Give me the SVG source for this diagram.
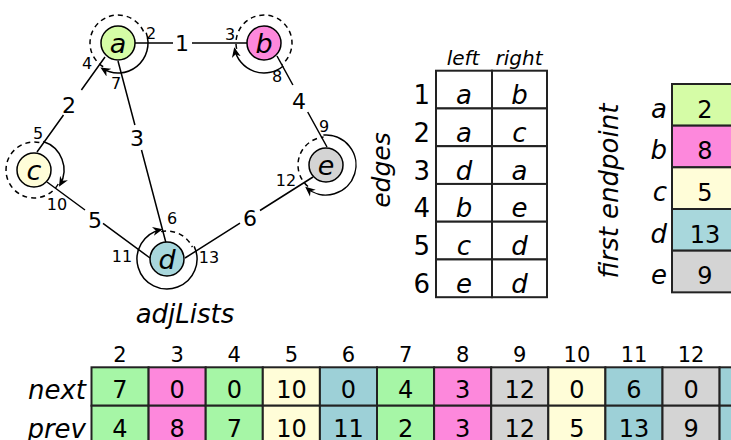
<svg xmlns="http://www.w3.org/2000/svg" width="731" height="440" viewBox="0 0 731 440">
<defs>
<style>
text{font-family:"DejaVu Sans",Verdana,sans-serif;fill:#000}
.it{font-style:italic}
.nl{font-size:27px;font-style:italic;text-anchor:middle}
.ep{font-size:16px;text-anchor:middle}
.el{font-size:22px;text-anchor:middle}
.node{stroke:#000;stroke-width:1.5}
.edge{stroke:#000;stroke-width:1.5;fill:none}
.arc{stroke:#000;stroke-width:1.5;fill:none;marker-end:url(#arr)}
.dash{stroke:#000;stroke-width:1.5;fill:none;stroke-dasharray:5 4}
.cell{stroke:#222;stroke-width:2}
.tv{font-size:24px;text-anchor:middle}
.tl{font-size:26px;text-anchor:middle;font-style:italic}
.rl{font-size:26px;text-anchor:end;font-style:italic}
.rn{font-size:26px;text-anchor:end}
.hd{font-size:21px;text-anchor:middle}
.A{fill:#d5fca6}.B{fill:#fd88dc}.C{fill:#fffdd8}.D{fill:#a8d7dc}.E{fill:#d4d4d4}
.Ag{fill:#a6f6a6}.Dg{fill:#9dd0d7}.W{fill:#fff}
</style>
<marker id="arr" viewBox="0 0 10 10" refX="8" refY="5" markerWidth="10" markerHeight="10" markerUnits="userSpaceOnUse" orient="auto">
<path d="M0,0.5 L10,5 L0,9.5 L3,5 z" fill="#000"/>
</marker>
</defs>
<rect width="731" height="440" fill="#fff"/>

<g id="connectors">
<path class="edge" d="M135,43 H173 M192,43 H247"/>
<path class="edge" d="M105,57 L81.4,90 M63.5,115 L37,152"/>
<path class="edge" d="M118,61 L134.9,125 M141.5,150 L166,243"/>
<path class="edge" d="M277,56 L292.9,85 M307.7,112 L327,147"/>
<path class="edge" d="M47,182 L85,210 M103,223.3 L150,258"/>
<path class="edge" d="M185,258 L240,223.2 M260,210.5 L313,177"/>
<text class="el" x="182" y="51">1</text>
<text class="el" x="69" y="113">2</text>
<text class="el" x="137" y="146">3</text>
<text class="el" x="299" y="109">4</text>
<text class="el" x="95" y="228">5</text>
<text class="el" x="250" y="226">6</text>
</g>

<g id="node-a">
<path class="dash" d="M103.16,66.74 A28,28 0 1 1 144.31,33.42"/>
<path class="arc" d="M146.19,32.74 A30,30 0 0 1 102.10,68.44"/>
<circle class="node A" cx="118" cy="43" r="17"/>
<text class="nl" x="118" y="53">a</text>
<text class="ep" x="151" y="39">2</text>
<text class="ep" x="87" y="69">4</text>
<text class="ep" x="116" y="89">7</text>
</g>

<g id="node-b">
<path class="dash" d="M236.61,48.82 A28,28 0 1 1 282.00,64.45"/>
<path class="arc" d="M283.28,65.98 A30,30 0 0 1 234.66,49.24"/>
<circle class="node B" cx="264" cy="43" r="17"/>
<text class="nl" x="264" y="53">b</text>
<text class="ep" x="230" y="40">3</text>
<text class="ep" x="277" y="82">8</text>
</g>

<g id="node-c">
<path class="dash" d="M58.25,184 A28,28 0 1 1 42.65,143.37"/>
<path class="arc" d="M43.27,141.47 A30,30 0 0 1 59.98,185"/>
<circle class="node C" cx="34" cy="170" r="17"/>
<text class="nl" x="34" y="180">c</text>
<text class="ep" x="38" y="139">5</text>
<text class="ep" x="57" y="210">10</text>
</g>

<g id="node-d">
<path class="dash" d="M161.18,231.61 A28,28 0 0 1 192.38,247.17"/>
<path class="arc" d="M194.19,246.32 A30,30 0 1 1 160.76,229.66"/>
<circle class="node D" cx="167" cy="259" r="17"/>
<text class="nl" x="167" y="269">d</text>
<text class="ep" x="172" y="224">6</text>
<text class="ep" x="122" y="262">11</text>
<text class="ep" x="209" y="263">13</text>
</g>

<g id="node-e">
<path class="dash" d="M308.00,186.45 A28,28 0 0 1 323.56,137.11"/>
<path class="arc" d="M323.39,135.11 A30,30 0 1 1 306.72,187.98"/>
<circle class="node E" cx="326" cy="165" r="17"/>
<text class="nl" x="326" y="175">e</text>
<text class="ep" x="324" y="132">9</text>
<text class="ep" x="286" y="186">12</text>
</g>

<text class="it" x="185" y="323" font-size="26" text-anchor="middle">adjLists</text>

<g id="edges-table">
<text class="it" x="463" y="65" font-size="20" text-anchor="middle">left</text>
<text class="it" x="519" y="65" font-size="20" text-anchor="middle">right</text>
<text class="it" font-size="25" text-anchor="middle" transform="translate(390,170) rotate(-90)">edges</text>
<g>
<rect class="cell W" x="436" y="70.7" width="56" height="37.75"/><rect class="cell W" x="492" y="70.7" width="55" height="37.75"/>
<rect class="cell W" x="436" y="108.45" width="56" height="37.75"/><rect class="cell W" x="492" y="108.45" width="55" height="37.75"/>
<rect class="cell W" x="436" y="146.2" width="56" height="37.75"/><rect class="cell W" x="492" y="146.2" width="55" height="37.75"/>
<rect class="cell W" x="436" y="183.95" width="56" height="37.75"/><rect class="cell W" x="492" y="183.95" width="55" height="37.75"/>
<rect class="cell W" x="436" y="221.7" width="56" height="37.75"/><rect class="cell W" x="492" y="221.7" width="55" height="37.75"/>
<rect class="cell W" x="436" y="259.45" width="56" height="37.75"/><rect class="cell W" x="492" y="259.45" width="55" height="37.75"/>
</g>
<text class="rn" x="430" y="104">1</text><text class="tl" x="464" y="104">a</text><text class="tl" x="519.5" y="104">b</text>
<text class="rn" x="430" y="141.7">2</text><text class="tl" x="464" y="141.7">a</text><text class="tl" x="519.5" y="141.7">c</text>
<text class="rn" x="430" y="179.5">3</text><text class="tl" x="464" y="179.5">d</text><text class="tl" x="519.5" y="179.5">a</text>
<text class="rn" x="430" y="217.2">4</text><text class="tl" x="464" y="217.2">b</text><text class="tl" x="519.5" y="217.2">e</text>
<text class="rn" x="430" y="255">5</text><text class="tl" x="464" y="255">c</text><text class="tl" x="519.5" y="255">d</text>
<text class="rn" x="430" y="292.7">6</text><text class="tl" x="464" y="292.7">e</text><text class="tl" x="519.5" y="292.7">d</text>
</g>

<g id="first-endpoint-table">
<text class="it" font-size="26" text-anchor="middle" transform="translate(618,191) rotate(-90)">first endpoint</text>
<rect class="cell A" x="672" y="84" width="70" height="41.67"/>
<rect class="cell B" x="672" y="125.67" width="70" height="41.67"/>
<rect class="cell C" x="672" y="167.33" width="70" height="41.67"/>
<rect class="cell D" x="672" y="209" width="70" height="41.67"/>
<rect class="cell E" x="672" y="250.67" width="70" height="41.67"/>
<text class="rl" x="667" y="117.5">a</text><text class="tv" x="705" y="117.5">2</text>
<text class="rl" x="667" y="159.2">b</text><text class="tv" x="705" y="159.2">8</text>
<text class="rl" x="667" y="200.8">c</text><text class="tv" x="705" y="200.8">5</text>
<text class="rl" x="667" y="242.5">d</text><text class="tv" x="705" y="242.5">13</text>
<text class="rl" x="667" y="284.2">e</text><text class="tv" x="705" y="284.2">9</text>
</g>

<g id="lists-table">
<text class="rl" x="86" y="399">next</text>
<text class="rl" x="86" y="438">prev</text>
<g>
<rect class="cell Ag" x="91.5" y="367.3" width="57.1" height="38.4"/><rect class="cell Ag" x="91.5" y="405.7" width="57.1" height="38.4"/>
<rect class="cell B" x="148.6" y="367.3" width="57.1" height="38.4"/><rect class="cell B" x="148.6" y="405.7" width="57.1" height="38.4"/>
<rect class="cell Ag" x="205.7" y="367.3" width="57.1" height="38.4"/><rect class="cell Ag" x="205.7" y="405.7" width="57.1" height="38.4"/>
<rect class="cell C" x="262.8" y="367.3" width="57.1" height="38.4"/><rect class="cell C" x="262.8" y="405.7" width="57.1" height="38.4"/>
<rect class="cell Dg" x="319.9" y="367.3" width="57.1" height="38.4"/><rect class="cell Dg" x="319.9" y="405.7" width="57.1" height="38.4"/>
<rect class="cell Ag" x="377" y="367.3" width="57.1" height="38.4"/><rect class="cell Ag" x="377" y="405.7" width="57.1" height="38.4"/>
<rect class="cell B" x="434.1" y="367.3" width="57.1" height="38.4"/><rect class="cell B" x="434.1" y="405.7" width="57.1" height="38.4"/>
<rect class="cell E" x="491.2" y="367.3" width="57.1" height="38.4"/><rect class="cell E" x="491.2" y="405.7" width="57.1" height="38.4"/>
<rect class="cell C" x="548.3" y="367.3" width="57.1" height="38.4"/><rect class="cell C" x="548.3" y="405.7" width="57.1" height="38.4"/>
<rect class="cell Dg" x="605.4" y="367.3" width="57.1" height="38.4"/><rect class="cell Dg" x="605.4" y="405.7" width="57.1" height="38.4"/>
<rect class="cell E" x="662.5" y="367.3" width="57.1" height="38.4"/><rect class="cell E" x="662.5" y="405.7" width="57.1" height="38.4"/>
<rect class="cell Dg" x="719.6" y="367.3" width="57.1" height="38.4"/><rect class="cell Dg" x="719.6" y="405.7" width="57.1" height="38.4"/>
</g>
<g class="hdr">
<text class="hd" x="120" y="362">2</text><text class="hd" x="177.2" y="362">3</text><text class="hd" x="234.3" y="362">4</text>
<text class="hd" x="291.4" y="362">5</text><text class="hd" x="348.5" y="362">6</text><text class="hd" x="405.6" y="362">7</text>
<text class="hd" x="462.7" y="362">8</text><text class="hd" x="519.8" y="362">9</text><text class="hd" x="576.9" y="362">10</text>
<text class="hd" x="634" y="362">11</text><text class="hd" x="691.1" y="362">12</text>
</g>
<text class="tv" x="120" y="398">7</text><text class="tv" x="177.2" y="398">0</text><text class="tv" x="234.3" y="398">0</text>
<text class="tv" x="291.4" y="398">10</text><text class="tv" x="348.5" y="398">0</text><text class="tv" x="405.6" y="398">4</text>
<text class="tv" x="462.7" y="398">3</text><text class="tv" x="519.8" y="398">12</text><text class="tv" x="576.9" y="398">0</text>
<text class="tv" x="634" y="398">6</text><text class="tv" x="691.1" y="398">0</text>
<text class="tv" x="120" y="436.5">4</text><text class="tv" x="177.2" y="436.5">8</text><text class="tv" x="234.3" y="436.5">7</text>
<text class="tv" x="291.4" y="436.5">10</text><text class="tv" x="348.5" y="436.5">11</text><text class="tv" x="405.6" y="436.5">2</text>
<text class="tv" x="462.7" y="436.5">3</text><text class="tv" x="519.8" y="436.5">12</text><text class="tv" x="576.9" y="436.5">5</text>
<text class="tv" x="634" y="436.5">13</text><text class="tv" x="691.1" y="436.5">9</text>
</g>
</svg>
